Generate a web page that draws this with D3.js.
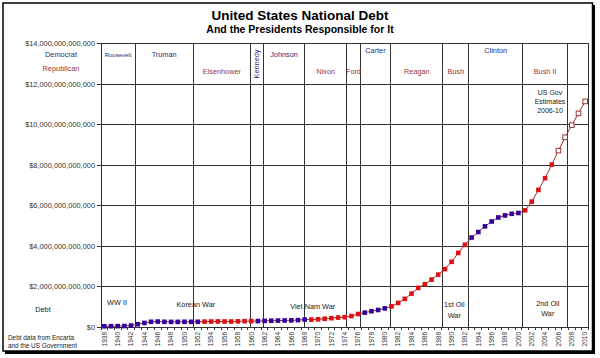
<!DOCTYPE html>
<html><head><meta charset="utf-8">
<script src="https://cdn.jsdelivr.net/npm/d3@7"></script>
<style>
html,body{margin:0;padding:0;background:#fff;}
svg{display:block;font-family:"Liberation Sans",Arial,sans-serif;}
</style></head>
<body><svg id="c" width="600" height="358"></svg>
<script>
// ---- data ----
const years = d3.range(1938, 2011);
// national debt, trillions of dollars
const debt = [0.037,0.040,0.043,0.049,0.072,0.137,0.201,0.259,0.269,0.258,
  0.252,0.253,0.257,0.255,0.259,0.266,0.271,0.274,0.273,0.272,
  0.280,0.287,0.291,0.293,0.303,0.311,0.317,0.322,0.328,0.340,
  0.369,0.366,0.381,0.408,0.436,0.466,0.484,0.54,0.64,0.71,
  0.78,0.84,0.92,1.02,1.19,1.39,1.65,1.93,2.11,2.34,
  2.59,2.86,3.22,3.66,4.06,4.42,4.69,4.97,5.21,5.41,
  5.51,5.59,5.63,5.76,6.19,6.77,7.35,8.02,8.71,9.37,
  9.97,10.55,11.14];
// party in charge of each year: D, R, or E (government estimate)
const party = "DDDDDDDDDDDDDDDRRRRRRRRDDDDDDDDRRRRRRRRDDDDRRRRRRRRRRRRDDDDDDDDRRRRREEEEE".split("");
const presidents = ["Roosevelt","Truman","Eisenhower","Kennedy","Johnson","Nixon","Ford","Carter","Reagan","Bush","Clinton","Bush II"];
const presParty  = ["D","D","R","D","D","R","R","D","R","R","D","R"];
// term boundaries as drawn (year position on the category axis)
const boundaries = [1937.5,1942.6,1951.3,1959.9,1961.8,1968.0,1974.3,1976.3,1980.9,1988.7,1992.6,2000.6,2007.4];
const yTicks = [0,2,4,6,8,10,12,14];
const yTickLabels = ["$0","$2,000,000,000,000","$4,000,000,000,000","$6,000,000,000,000","$8,000,000,000,000","$10,000,000,000,000","$12,000,000,000,000","$14,000,000,000,000"];
const wars = [["WW II"],["Korean War"],["Viet Nam War"],["1st Oil","War"],["2nd Oil","War"]];
const warYears = [1939.9, 1951.7, 1969.2, 1990.4, 2004.4];

// ---- layout ----
const svg = d3.select("#c");
const L=101, R=588.5, T=43.5, B=327;
const x = d3.scaleLinear().domain([1937.5, 2010.5]).range([L, R]);
const y = d3.scaleLinear().domain([0, 14]).range([B, T]);
const BLUE="#330099", RED="#dd1111", DBLUE="#2b2b80", DRED="#993333";

// outer frame with shadow
svg.append("rect").attr("x",5).attr("y",5).attr("width",590).attr("height",349).attr("fill","#000");
svg.append("rect").attr("x",3).attr("y",3).attr("width",589.5).attr("height",348).attr("fill","#fff").attr("stroke","#000").attr("stroke-width",1.5);

// title
svg.append("text").attr("x",300).attr("y",20).attr("text-anchor","middle")
  .attr("font-size",13.5).attr("font-weight","bold").text("United States National Debt");
svg.append("text").attr("x",300).attr("y",33).attr("text-anchor","middle")
  .attr("font-size",10.5).attr("font-weight","bold").text("And the Presidents Responsible for It");

// horizontal gridlines
svg.append("g").selectAll("line").data(yTicks).join("line")
  .attr("x1",L-4).attr("x2",R).attr("y1",d=>y(d)).attr("y2",d=>y(d))
  .attr("stroke","#333").attr("stroke-width",1).attr("shape-rendering","crispEdges");
// vertical president lines
svg.append("g").selectAll("line").data(boundaries.concat([2010.5])).join("line")
  .attr("x1",d=>x(d)).attr("x2",d=>x(d)).attr("y1",T).attr("y2",B)
  .attr("stroke","#333").attr("stroke-width",1).attr("shape-rendering","crispEdges");

// y axis labels
svg.append("g").selectAll("text").data(yTicks).join("text")
  .attr("x",95).attr("y",d=>y(d)+2.6).attr("text-anchor","end")
  .attr("font-size",7.4).attr("fill","#333").text((d,i)=>yTickLabels[i]);

// x axis ticks & labels
const xa = svg.append("g");
xa.selectAll("line").data(d3.range(1937.5, 2011.5, 1)).join("line")
  .attr("x1",d=>x(d)).attr("x2",d=>x(d)).attr("y1",B).attr("y2",B+3)
  .attr("stroke","#333").attr("shape-rendering","crispEdges");
xa.selectAll("text").data(years.filter(v=>v%2===0)).join("text")
  .attr("transform",d=>`translate(${x(d)+2.3},${B+5}) rotate(-90)`)
  .attr("text-anchor","end").attr("font-size",6.5).attr("fill","#333").text(d=>d);

// legend
svg.append("text").attr("x",61).attr("y",57).attr("text-anchor","middle").attr("font-size",7.4).attr("fill",DBLUE).text("Democrat");
svg.append("text").attr("x",61).attr("y",71).attr("text-anchor","middle").attr("font-size",7.4).attr("fill",DRED).text("Republican");

// president labels
const pg = svg.append("g");
presidents.forEach((name,i)=>{
  const cx = (x(boundaries[i]) + x(boundaries[i+1]))/2;
  const col = presParty[i]==="D" ? DBLUE : DRED;
  if (name==="Kennedy") {
    pg.append("text").attr("transform",`translate(${cx+2.5},${64}) rotate(-90)`)
      .attr("text-anchor","middle").attr("font-size",7.3).attr("fill",col).text(name);
    return;
  }
  let yy = presParty[i]==="D" ? 57 : 74;
  if (name==="Carter"||name==="Clinton") yy = 53;
  pg.append("text").attr("x",cx).attr("y",yy).attr("text-anchor","middle")
    .attr("font-size",name==="Roosevelt"?6:7.3).attr("fill",col).text(name);
});

// estimates note
["US Gov","Estimates","2006-10"].forEach((t,i)=>{
  svg.append("text").attr("x",550).attr("y",95+i*9).attr("text-anchor","middle")
    .attr("font-size",7).attr("fill","#222").text(t);
});

// war labels
wars.forEach((lines,i)=>{
  const base = [305,307,309,307,305.5][i];
  lines.forEach((t,j)=>{
    svg.append("text").attr("x",x(warYears[i])).attr("y",base+j*10.5).attr("text-anchor","middle")
      .attr("font-size",7.3).attr("fill","#222").text(t);
  });
});

// side notes
svg.append("text").attr("x",43).attr("y",312).attr("text-anchor","middle").attr("font-size",7.3).attr("fill","#222").text("Debt");
svg.append("text").attr("x",8).attr("y",339.5).attr("font-size",6.4).attr("fill","#222").text("Debt data from Encarta");
svg.append("text").attr("x",8).attr("y",348).attr("font-size",6.4).attr("fill","#222").text("and the US Government");

// series line
const pts = years.map((yr,i)=>({yr, v:debt[i], p:party[i]}));
svg.append("path").datum(pts)
  .attr("d", d3.line().x(d=>x(d.yr)).y(d=>y(d.v)))
  .attr("fill","none").attr("stroke",DRED).attr("stroke-width",1);
// markers
const s = 4.6;
svg.append("g").selectAll("rect").data(pts).join("rect")
  .attr("x",d=>x(d.yr)-s/2).attr("y",d=>y(d.v)-s/2).attr("width",s).attr("height",s)
  .attr("fill",d=>d.p==="D"?BLUE:d.p==="R"?RED:"#fff")
  .attr("stroke",d=>d.p==="E"?DRED:"none").attr("stroke-width",1);
</script></body></html>
